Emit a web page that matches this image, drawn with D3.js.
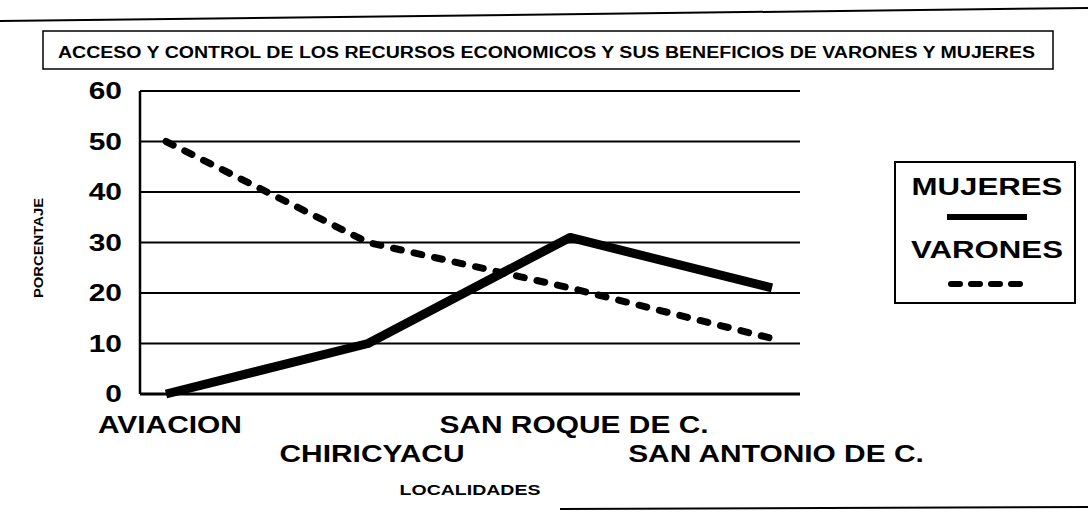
<!DOCTYPE html>
<html>
<head>
<meta charset="utf-8">
<script src="https://cdn.jsdelivr.net/npm/d3@7"></script>
<style>
  body { margin: 0; background: #fff; }
  text { font-family: "Liberation Sans", Arial, sans-serif; font-weight: bold; fill: #000; }
</style>
</head>
<body>
<script>
// chart data
var localidades = ["AVIACION", "CHIRICYACU", "SAN ROQUE DE C.", "SAN ANTONIO DE C."];
var mujeres = [0, 10, 31, 21];
var varones = [50, 30, 21, 11];
var yTicks = [0, 10, 20, 30, 40, 50, 60];
var titulo = "ACCESO Y CONTROL DE LOS RECURSOS ECONOMICOS Y SUS BENEFICIOS DE VARONES Y MUJERES";

var width = 1088,
    height = 512;

var svg = d3.select("body").append("svg")
    .attr("width", width)
    .attr("height", height);

// the scan is stretched sideways, so the text is too
var stretch = 1.3;
function widen(sel) {
  sel.each(function() {
    var w = this.getComputedTextLength();
    d3.select(this).attr("textLength", w * stretch).attr("lengthAdjust", "spacingAndGlyphs");
  });
}

// plot area
var plotLeft = 140, plotRight = 800, plotTop = 91, plotBottom = 394;

var x = d3.scalePoint()
    .domain(localidades)
    .range([166, 772]);

var y = d3.scaleLinear()
    .domain([0, 60])
    .range([plotBottom, plotTop]);

// page rules from the scan
svg.append("line")
    .attr("x1", 0).attr("y1", 21).attr("x2", width).attr("y2", 8)
    .attr("stroke", "#000").attr("stroke-width", 2);
svg.append("line")
    .attr("x1", 560).attr("y1", 509).attr("x2", width).attr("y2", 507)
    .attr("stroke", "#000").attr("stroke-width", 2);

// title box
svg.append("rect")
    .attr("x", 43).attr("y", 31)
    .attr("width", 1010).attr("height", 38)
    .attr("fill", "none").attr("stroke", "#000").attr("stroke-width", 1.5);
svg.append("text")
    .attr("x", 58).attr("y", 58)
    .attr("font-size", 16)
    .attr("textLength", 977)
    .attr("lengthAdjust", "spacingAndGlyphs")
    .text(titulo);

// gridlines
svg.append("g")
  .selectAll("line")
  .data(yTicks)
  .enter().append("line")
    .attr("x1", plotLeft).attr("x2", plotRight)
    .attr("y1", function(d) { return y(d); })
    .attr("y2", function(d) { return y(d); })
    .attr("stroke", "#000")
    .attr("stroke-width", function(d) { return d === 0 ? 3 : 2; });

// left axis
svg.append("line")
    .attr("x1", plotLeft).attr("x2", plotLeft).attr("y1", plotTop).attr("y2", plotBottom)
    .attr("stroke", "#000").attr("stroke-width", 2.5);

// y axis labels
svg.append("g")
  .selectAll("text")
  .data(yTicks)
  .enter().append("text")
    .attr("x", 122)
    .attr("y", function(d) { return y(d); })
    .attr("dy", "0.36em")
    .attr("text-anchor", "end")
    .attr("font-size", 23)
    .text(function(d) { return d; })
    .call(widen);

// category labels, alternating rows
svg.append("g")
  .selectAll("text")
  .data(localidades)
  .enter().append("text")
    .attr("x", function(d) { return x(d) + 4; })
    .attr("y", function(d, i) { return i % 2 === 0 ? 433 : 462; })
    .attr("text-anchor", "middle")
    .attr("font-size", 23)
    .text(function(d) { return d; })
    .call(widen);

// axis titles
svg.append("text")
    .attr("x", 470).attr("y", 495)
    .attr("text-anchor", "middle")
    .attr("font-size", 15)
    .text("LOCALIDADES")
    .call(widen);

svg.append("text")
    .attr("transform", "translate(43,248) rotate(-90)")
    .attr("text-anchor", "middle")
    .attr("font-size", 13)
    .attr("textLength", 100)
    .attr("lengthAdjust", "spacingAndGlyphs")
    .text("PORCENTAJE");

// series lines
var line = d3.line()
    .x(function(d, i) { return x(localidades[i]); })
    .y(function(d) { return y(d); });

svg.append("path")
    .datum(varones)
    .attr("d", line)
    .attr("fill", "none")
    .attr("stroke", "#000")
    .attr("stroke-width", 7)
    .attr("stroke-linecap", "round")
    .attr("stroke-dasharray", "8,13");

svg.append("path")
    .datum(mujeres)
    .attr("d", line)
    .attr("fill", "none")
    .attr("stroke", "#000")
    .attr("stroke-width", 9)
    .attr("stroke-linejoin", "round");

// legend
var legend = svg.append("g");
legend.append("rect")
    .attr("x", 895).attr("y", 162)
    .attr("width", 180).attr("height", 141)
    .attr("fill", "none").attr("stroke", "#000").attr("stroke-width", 2);
legend.append("text")
    .attr("x", 987).attr("y", 195)
    .attr("text-anchor", "middle")
    .attr("font-size", 24)
    .text("MUJERES")
    .call(widen);
legend.append("line")
    .attr("x1", 947).attr("x2", 1027).attr("y1", 217).attr("y2", 217)
    .attr("stroke", "#000").attr("stroke-width", 6);
legend.append("text")
    .attr("x", 987).attr("y", 258)
    .attr("text-anchor", "middle")
    .attr("font-size", 24)
    .text("VARONES")
    .call(widen);
legend.append("line")
    .attr("x1", 951).attr("x2", 1022).attr("y1", 284).attr("y2", 284)
    .attr("stroke", "#000").attr("stroke-width", 6)
    .attr("stroke-linecap", "round")
    .attr("stroke-dasharray", "9,11");
</script>
</body>
</html>
